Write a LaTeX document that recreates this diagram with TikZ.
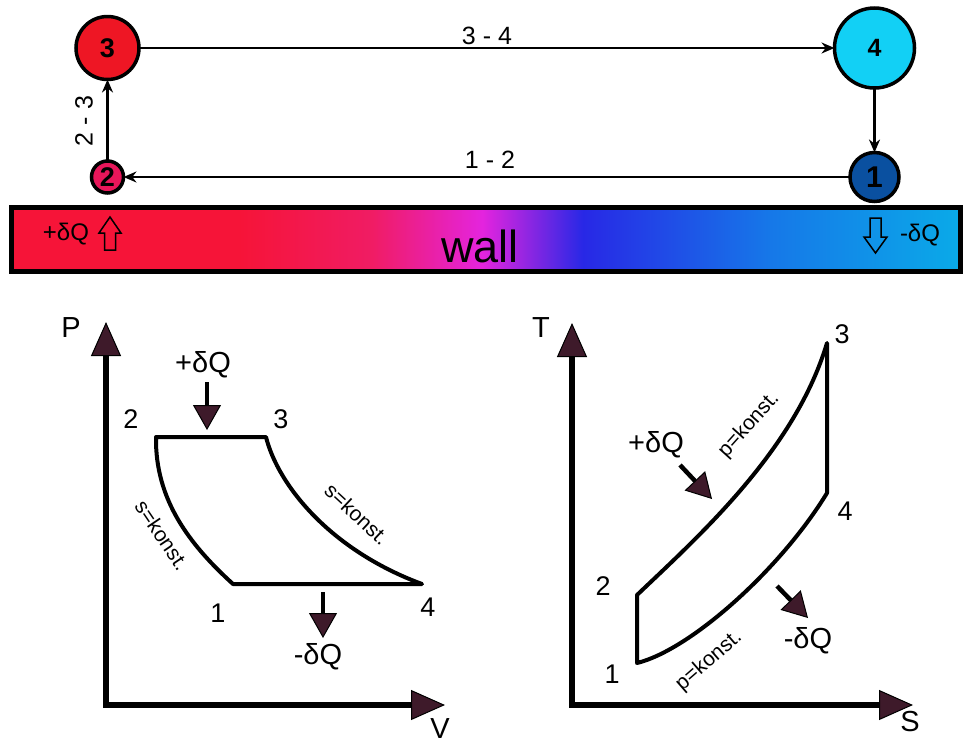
\documentclass[tikz,border=0pt]{standalone}
\usepackage{fontspec}
\setmainfont{Liberation Sans}
\usetikzlibrary{arrows.meta,shapes.geometric}
\definecolor{c3}{RGB}{238,22,36}
\definecolor{c4}{RGB}{18,208,245}
\definecolor{c2}{RGB}{232,22,90}
\definecolor{c1}{RGB}{10,80,160}
\definecolor{tipc}{RGB}{62,26,42}
\definecolor{w1}{RGB}{246,20,56}
\definecolor{w2}{RGB}{240,28,100}
\definecolor{w3}{RGB}{228,36,222}
\definecolor{w4}{RGB}{40,40,230}
\definecolor{w5}{RGB}{22,120,232}
\definecolor{w6}{RGB}{10,170,232}
\pgfdeclarehorizontalshading{wallshade}{100bp}{color(0bp)=(w1); color(25bp)=(w1); color(37bp)=(w1); color(44bp)=(w2); color(49.8bp)=(w3); color(55.1bp)=(w4); color(65bp)=(w5); color(75bp)=(w6); color(100bp)=(w6)}
\begin{document}
\begin{tikzpicture}[x=1pt,y=-1pt,
  state/.style={circle,draw=black,line width=3.5pt,inner sep=0pt,outer sep=0pt},
  flow/.style={line width=2.5pt,-{Stealth[length=13pt,width=11pt]}},
  flowlabel/.style={font=\fontsize{25}{25}\selectfont,inner sep=0pt},
  wallbox/.style={draw=black,line width=5pt,shade,shading=wallshade,minimum width=949pt,minimum height=64pt,inner sep=0pt,outer sep=0pt},
  wallfont/.style={font=\fontsize{45}{45}\selectfont,inner sep=0pt,anchor=base},
  hollow/.style={draw=black,line width=1.5pt,line join=miter},
  axis/.style={line width=6pt,line join=miter,{Triangle[length=34pt,width=30pt,fill=tipc,line width=1pt]}-{Triangle[length=34pt,width=30pt,fill=tipc,line width=1pt]}},
  heat/.style={line width=4.5pt,-{Triangle[length=25pt,width=28pt,fill=tipc,line width=1pt]}},
  cyc/.style={line width=4pt,line join=round,line cap=round},
  num/.style={font=\fontsize{27}{27}\selectfont,inner sep=0pt},
  axlabel/.style={font=\fontsize{29}{29}\selectfont,inner sep=0pt},
  qlabel/.style={font=\fontsize{29}{29}\selectfont,inner sep=0pt},
  konst/.style={font=\fontsize{21}{21}\selectfont,inner sep=0pt},
  wq/.style={font=\fontsize{24}{24}\selectfont,inner sep=0pt}
]
\useasboundingbox (0,0) rectangle (963,742);

% ---------- top cycle graph ----------
\node[state,fill=c3,minimum size=63pt,font=\bfseries\fontsize{27}{27}\selectfont] (n3) at (107.5,48) {3};
\node[state,fill=c4,minimum size=80pt,font=\bfseries\fontsize{25}{25}\selectfont] (n4) at (874.5,48) {4};
\node[state,fill=c2,minimum size=32pt,font=\bfseries\fontsize{27}{27}\selectfont] (n2) at (107.5,177) {2};
\node[state,fill=c1,minimum size=49pt,font=\bfseries\fontsize{30}{30}\selectfont] (n1) at (874.5,177) {1};

\draw[flow] (n3) -- (n4);
\draw[flow] (n4) -- (n1);
\draw[flow,line width=2pt] (n1) -- (n2);
\draw[flow] (n2) -- (n3);

\node[flowlabel] (l34) at (487,36) {3 - 4};
\node[flowlabel] (l12) at (490,160) {1 - 2};
\node[flowlabel,rotate=90] (l23) at (84,121) {2 - 3};

% ---------- wall ----------
\node[wallbox] (wall) at (486,239.5) {};
\node[wallfont] (walltext) at (480,262) {wall};
\node[wq] (qin) at (66,234) {+δQ};
\node[wq] (qout) at (920,235) {-δQ};
\draw[hollow] (110,217) -- (121,233) -- (115.5,233) -- (115.5,250) -- (104.5,250) -- (104.5,233) -- (99,233) -- cycle;
\draw[hollow] (875.5,253) -- (887,237) -- (881,237) -- (881,218) -- (870,218) -- (870,237) -- (864,237) -- cycle;

% ---------- P-V diagram ----------
\coordinate (pvO) at (106,705);
\coordinate (pvP) at (106,322);
\coordinate (pvV) at (445,705);
\draw[axis] (pvP) -- (pvO) -- (pvV);
\node[axlabel] (lP) at (71,328) {P};
\node[axlabel] (lV) at (440,729) {V};

\coordinate (a2) at (156,437);
\coordinate (a3) at (266,437);
\coordinate (a4) at (422,584);
\coordinate (a1) at (233,584);
\draw[cyc] (a1) -- (a4) .. controls (330,550) and (278,485) .. (a3) -- (a2) .. controls (155,500) and (190,545) .. (a1) -- cycle;

\node[num] (pv2) at (131,419) {2};
\node[num] (pv3) at (281,419) {3};
\node[num] (pv1) at (218,613) {1};
\node[num] (pv4) at (428,607) {4};

\node[qlabel] (pvqin) at (203,365) {+δQ};
\coordinate (pvqinS) at (207,382);
\coordinate (pvqinE) at (207,430);
\draw[heat] (pvqinS) -- (pvqinE);
\node[qlabel] (pvqout) at (318,657) {-δQ};
\coordinate (pvqoutS) at (323,592);
\coordinate (pvqoutE) at (323,638);
\draw[heat] (pvqoutS) -- (pvqoutE);

\node[konst,rotate=-56] (pvk1) at (162,535) {s=konst.};
\node[konst,rotate=-43] (pvk2) at (357,514) {s=konst.};

% ---------- T-S diagram ----------
\coordinate (tsO) at (572,705);
\coordinate (tsT) at (572,323);
\coordinate (tsS) at (913,705);
\draw[axis] (tsT) -- (tsO) -- (tsS);
\node[axlabel] (lT) at (541,328) {T};
\node[axlabel] (lS) at (910,722) {S};

\coordinate (b1) at (637,663);
\coordinate (b2) at (637,595);
\coordinate (b3) at (827,343);
\coordinate (b4) at (827,493);
\draw[cyc] (b1) -- (b2) .. controls (700,535) and (795,450) .. (b3) -- (b4) .. controls (780,570) and (690,650) .. (b1) -- cycle;

\node[num] (ts3) at (842,334) {3};
\node[num] (ts4) at (845,511) {4};
\node[num] (ts2) at (603,586) {2};
\node[num] (ts1) at (612,674) {1};

\node[qlabel] (tsqin) at (656,445) {+δQ};
\coordinate (tsqinS) at (680,465);
\coordinate (tsqinE) at (712,499);
\draw[heat] (tsqinS) -- (tsqinE);
\node[qlabel] (tsqout) at (808,641) {-δQ};
\coordinate (tsqoutS) at (777,586);
\coordinate (tsqoutE) at (808,618);
\draw[heat] (tsqoutS) -- (tsqoutE);

\node[konst,rotate=48] (tsk1) at (749,425) {p=konst.};
\node[konst,rotate=41] (tsk2) at (709,661) {p=konst.};
\end{tikzpicture}
\end{document}
